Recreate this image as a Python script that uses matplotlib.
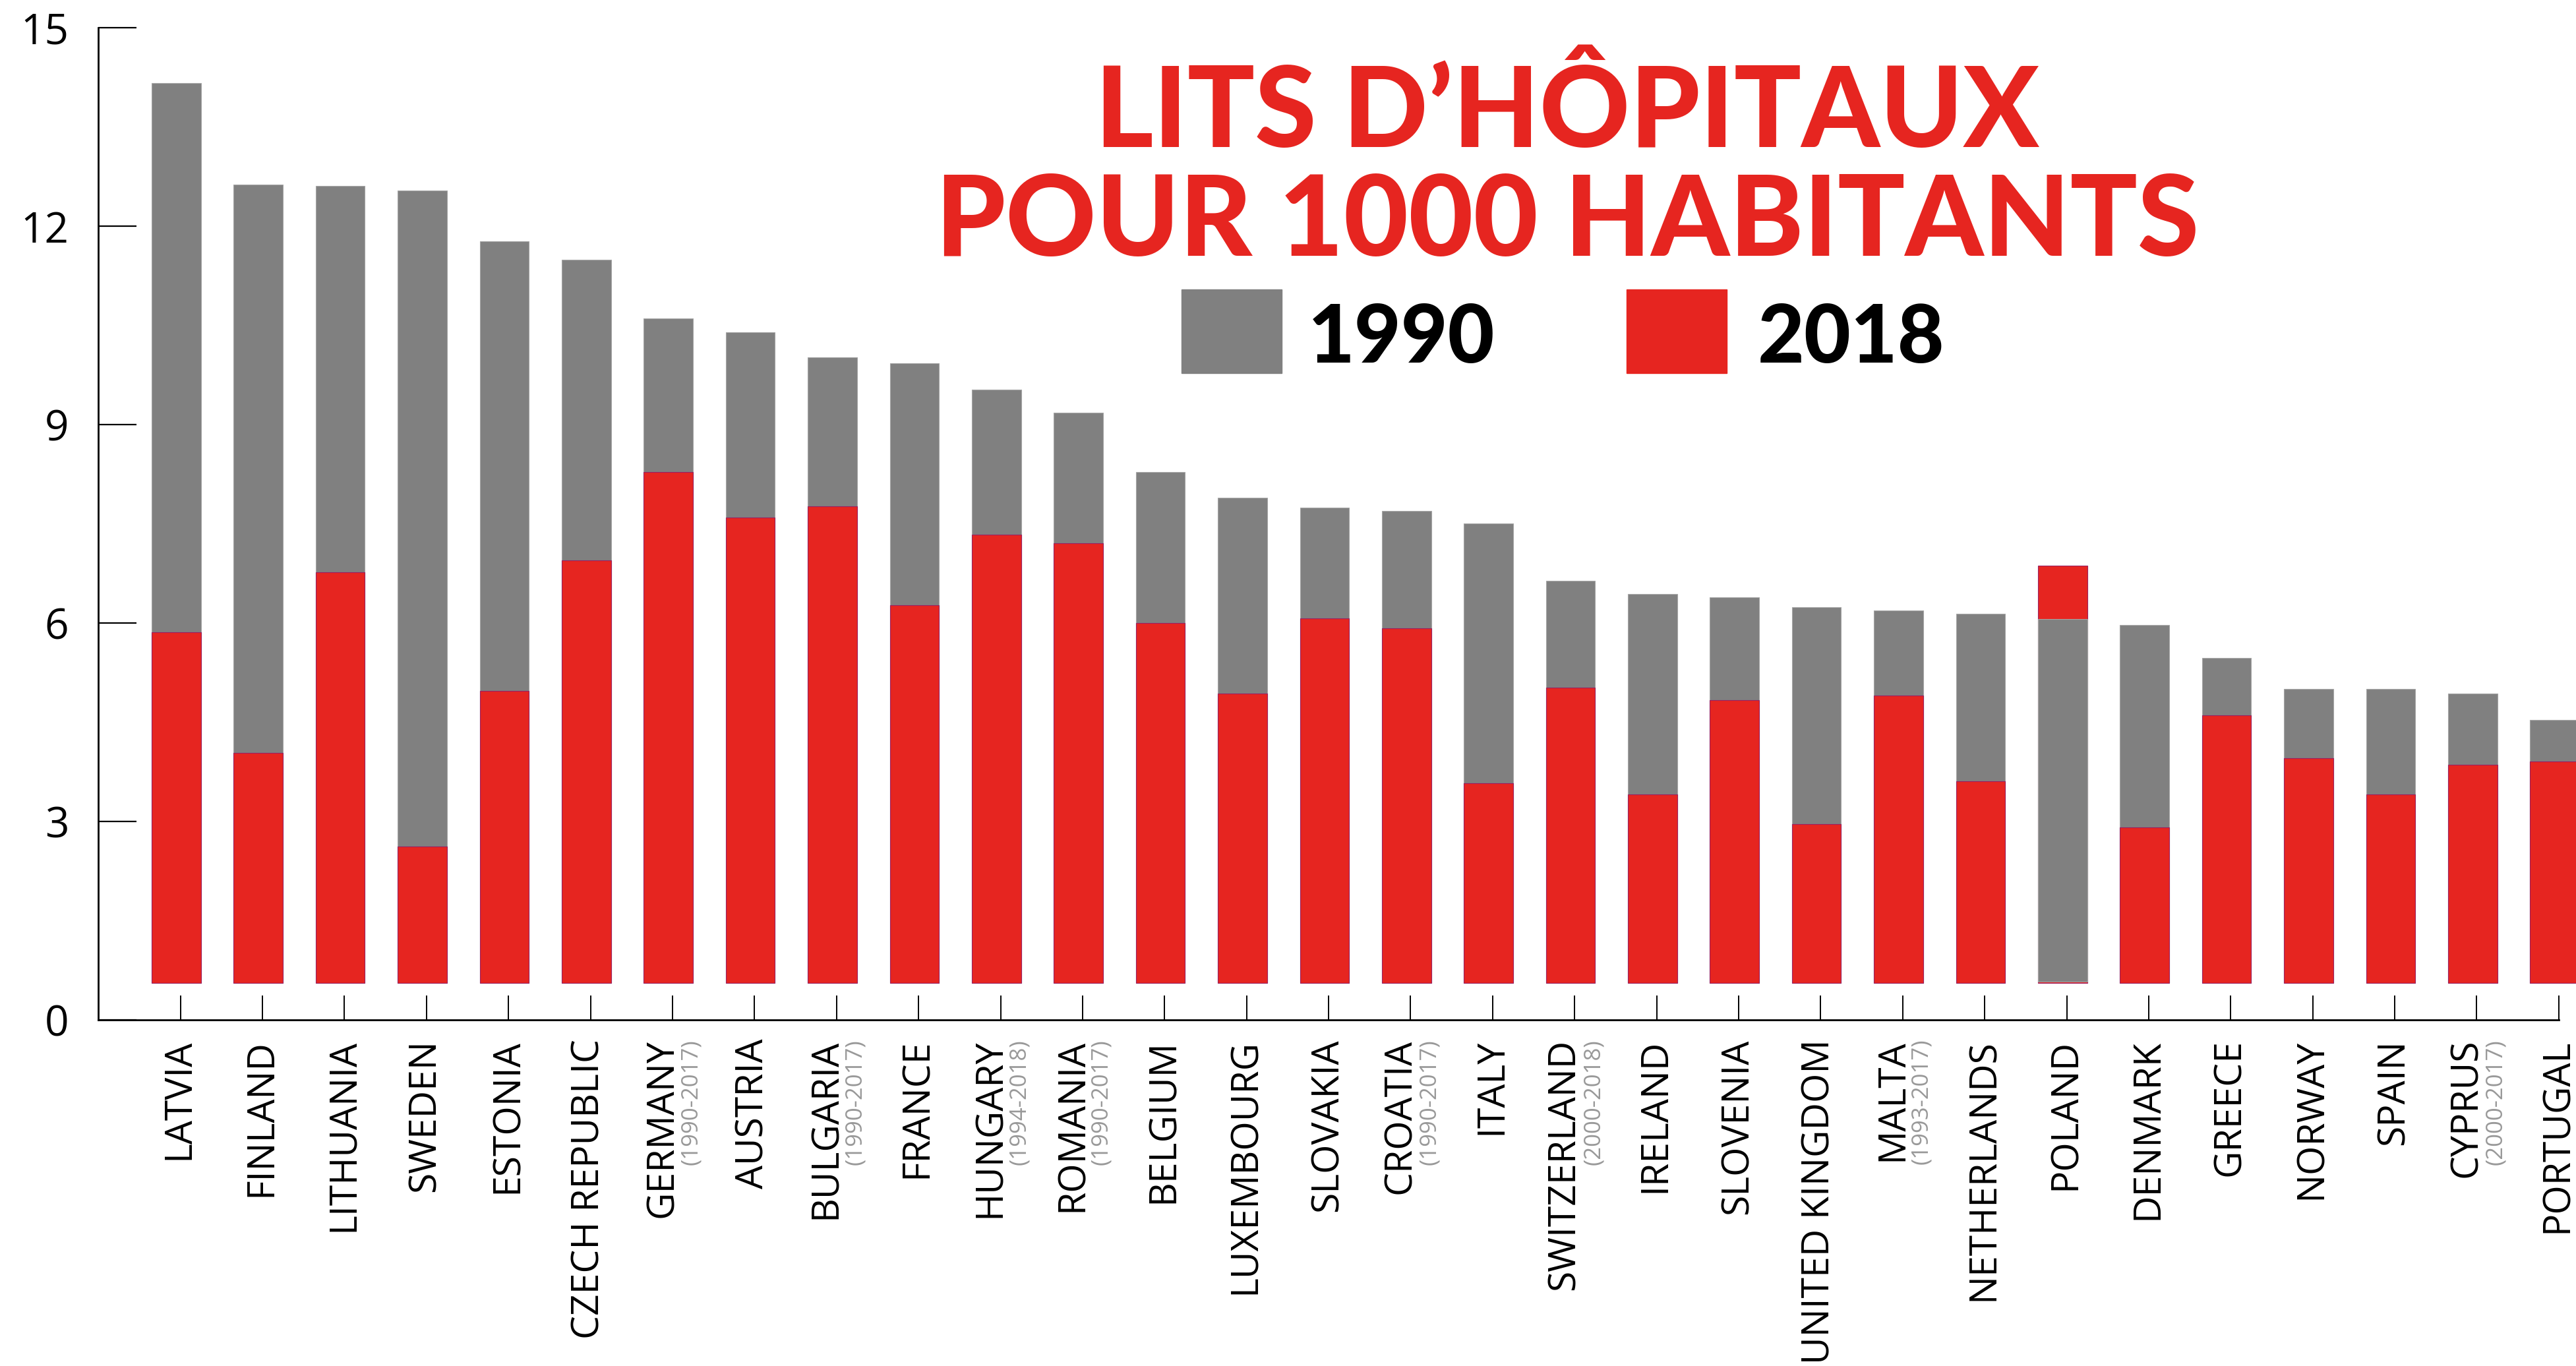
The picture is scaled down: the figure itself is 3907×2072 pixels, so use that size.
import matplotlib.pyplot as plt
from matplotlib.patches import Rectangle
import numpy as np

countries = ["LATVIA", "FINLAND", "LITHUANIA", "SWEDEN", "ESTONIA", "CZECH REPUBLIC",
             "GERMANY", "AUSTRIA", "BULGARIA", "FRANCE", "HUNGARY", "ROMANIA",
             "BELGIUM", "LUXEMBOURG", "SLOVAKIA", "CROATIA", "ITALY", "SWITZERLAND",
             "IRELAND", "SLOVENIA", "UNITED KINGDOM", "MALTA", "NETHERLANDS", "POLAND",
             "DENMARK", "GREECE", "NORWAY", "SPAIN", "CYPRUS", "PORTUGAL"]
periods = {"GERMANY": "(1990-2017)", "BULGARIA": "(1990-2017)", "HUNGARY": "(1994-2018)",
           "ROMANIA": "(1990-2017)", "CROATIA": "(1990-2017)", "SWITZERLAND": "(2000-2018)",
           "MALTA": "(1993-2017)", "CYPRUS": "(2000-2017)"}

# bar tops as read on the axis
beds_1990 = [14.16, 12.63, 12.61, 12.54, 11.77, 11.49, 10.60, 10.40, 10.02, 9.93,
             9.53, 9.18, 8.28, 7.89, 7.74, 7.69, 7.51, 6.64, 6.44, 6.39,
             6.24, 6.19, 6.14, 6.04, 5.97, 5.47, 5.00, 5.00, 4.93, 4.53]
beds_2018 = [5.86, 4.04, 6.77, 2.62, 4.97, 6.95, 8.28, 7.59, 7.76, 6.27,
             7.34, 7.21, 6.00, 4.93, 6.07, 5.92, 3.58, 5.02, 3.41, 4.83,
             2.96, 4.90, 3.61, 6.87, 2.91, 4.60, 3.96, 3.41, 3.86, 3.91]
base = 0.56

GREY = '#808080'
RED = '#e62520'

fig = plt.figure(figsize=(39.07, 20.72), dpi=100)
ax = fig.add_axes([0.0381, 0.2534, 0.9619, 0.7263])

x = np.arange(len(countries))
g = np.array(beds_1990)
r = np.array(beds_2018)
tall = np.maximum(g, r)
short = np.minimum(g, r)
tall_col = [GREY if a >= b else RED for a, b in zip(g, r)]
short_col = [RED if a >= b else GREY for a, b in zip(g, r)]
tall_edge = ['#a5a5a5' if c == GREY else '#9a2060' for c in tall_col]
short_edge = ['#a5a5a5' if c == GREY else '#9a2060' for c in short_col]

# taller bar first, shorter one on top
ax.bar(x, tall - base, bottom=base, width=0.6, color=tall_col, edgecolor=tall_edge, linewidth=0.8)
ax.bar(x, short - base, bottom=base + 0.02 * (g < r), width=0.6, color=short_col,
       edgecolor=short_edge, linewidth=0.8)

ax.set_xlim(-0.953, 29.26)
ax.set_ylim(0, 15)
for s in ['top', 'right']:
    ax.spines[s].set_visible(False)
ax.spines['left'].set_linewidth(2)
ax.spines['bottom'].set_linewidth(2)
ax.spines['left'].set_bounds(0, 15)
ax.spines['bottom'].set_bounds(-0.953, 29.05)

ax.set_yticks(range(0, 16, 3))
ax.tick_params(axis='y', direction='in', length=42, width=1.6, pad=32,
               labelsize=46)
for lab in ax.get_yticklabels():
    lab.set_fontfamily('Open Sans')

ax.set_xticks(x + 0.05)
ax.set_xticklabels([])
ax.tick_params(axis='x', direction='in', length=27, width=1.4)

trans = ax.get_xaxis_transform()
for i, name in enumerate(countries):
    if name in periods:
        ax.text(i - 0.07, -0.0193, name, rotation=90, ha='center', va='top',
                fontsize=41, family='Open Sans', transform=trans, clip_on=False)
        ax.text(i + 0.28, -0.0193, periods[name], rotation=90, ha='center', va='top',
                fontsize=25, family='Open Sans', color='#999999', transform=trans,
                clip_on=False)
    else:
        ax.text(i + 0.04, -0.0193, name, rotation=90, ha='center', va='top',
                fontsize=41, family='Open Sans', transform=trans, clip_on=False)

# title (va='baseline' sits on the last line)
fig.text(2377 / 3907, 1 - 388 / 2072, "LITS D\u2019HÔPITAUX\nPOUR 1000 HABITANTS",
         ha='center', va='baseline', multialignment='center', linespacing=1.08,
         fontsize=122, fontweight='black', family='Lato', color=RED)

# legend
fig.patches.append(Rectangle((1792 / 3907, 1 - 566 / 2072), 152 / 3907, 127 / 2072,
                             transform=fig.transFigure, color=GREY))
fig.patches.append(Rectangle((2467 / 3907, 1 - 566 / 2072), 152 / 3907, 127 / 2072,
                             transform=fig.transFigure, color=RED))
fig.text(1984 / 3907, 1 - 550 / 2072, "1990", ha='left', va='baseline',
         fontsize=88, fontweight='black', family='Lato', color='black')
fig.text(2666 / 3907, 1 - 550 / 2072, "2018", ha='left', va='baseline',
         fontsize=88, fontweight='black', family='Lato', color='black')

fig.savefig('out.png', dpi=100)
